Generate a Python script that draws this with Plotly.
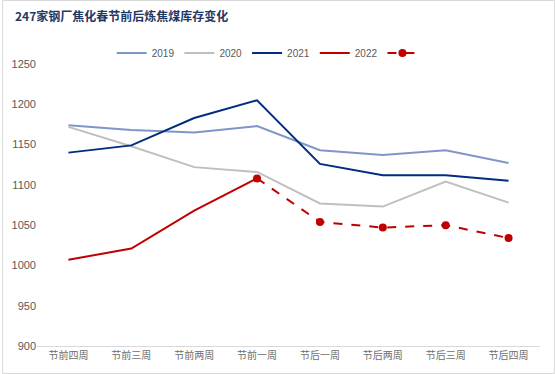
import plotly.graph_objects as go

categories = ["节前四周", "节前三周", "节前两周", "节前一周", "节后一周", "节后两周", "节后三周", "节后四周"]
v2019 = [1174, 1168, 1165, 1173, 1143, 1137, 1143, 1127]
v2020 = [1172, 1148, 1122, 1116, 1077, 1073, 1104, 1078]
v2021 = [1140, 1149, 1183, 1205, 1126, 1112, 1112, 1105]
v2022_pre = [1007, 1021, 1068, 1108]
v2022_post = [1108, 1054, 1047, 1050, 1034]

fig = go.Figure()
fig.add_trace(go.Scatter(x=categories, y=v2019, mode="lines", name="2019",
                         line=dict(color="#7F96C8", width=2)))
fig.add_trace(go.Scatter(x=categories, y=v2020, mode="lines", name="2020",
                         line=dict(color="#BFBFBF", width=2)))
fig.add_trace(go.Scatter(x=categories, y=v2021, mode="lines", name="2021",
                         line=dict(color="#002D7F", width=2)))
fig.add_trace(go.Scatter(x=categories[:4], y=v2022_pre, mode="lines", name="2022",
                         line=dict(color="#C00000", width=2)))
fig.add_trace(go.Scatter(x=categories[3:], y=v2022_post, mode="lines+markers", name=" ",
                         line=dict(color="#C00000", width=2, dash="dash"),
                         marker=dict(color="#C00000", size=8)))

fig.update_layout(
    width=555, height=374,
    margin=dict(l=35, r=15, t=64, b=28),
    paper_bgcolor="white", plot_bgcolor="white",
    title=dict(text="<b>247家钢厂焦化春节前后炼焦煤库存变化</b>", x=0.027, xanchor="left",
               y=0.965, yanchor="top",
               font=dict(family="Noto Sans CJK SC", size=12, color="#1F3864")),
    legend=dict(orientation="h", x=(110 - 35) / 505, xanchor="left", y=1 + 11 / 282, yanchor="middle",
                font=dict(family="Liberation Sans, Arial", size=10, color="#595959"),
                itemwidth=30, tracegroupgap=0, bgcolor="rgba(0,0,0,0)"),
    xaxis=dict(showgrid=False, showline=True, linecolor="#D9D9D9", linewidth=1,
               ticks="", tickfont=dict(family="Noto Sans CJK SC", size=10, color="#6E6E6E"),
               range=[-0.5, 7.5], fixedrange=True),
    yaxis=dict(range=[900, 1250], dtick=50, showgrid=False, zeroline=False, showline=False,
               ticks="", tickfont=dict(family="Liberation Sans, Arial", size=11, color="#595959"),
               fixedrange=True),
    shapes=[dict(type="rect", xref="paper", yref="paper", x0=-34.5 / 505, x1=1 + 14.5 / 505,
                 y0=-27.5 / 282, y1=1 + 63.5 / 282, line=dict(color="#D9D9D9", width=1))],
)

fig.write_html("out.html", config={"displayModeBar": False},
               post_script="document.body.style.margin='0';document.body.style.padding='0';")
